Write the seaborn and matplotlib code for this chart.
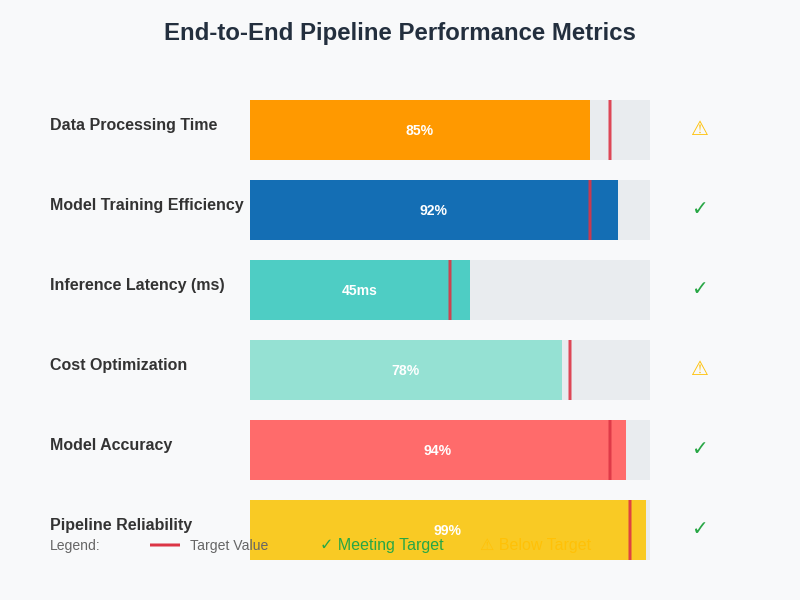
import matplotlib

matplotlib.use('Agg')
import matplotlib.pyplot as plt
import seaborn as sns

metrics = ['Data Processing Time', 'Model Training Efficiency', 'Inference Latency (ms)',
           'Cost Optimization', 'Model Accuracy', 'Pipeline Reliability']
values = [85, 92, 55, 78, 94, 99]
value_labels = ['85%', '92%', '45ms', '78%', '94%', '99%']
targets = [90, 85, 50, 80, 90, 95]
track = [100, 100, 100, 100, 100, 100]
status = ['warn', 'ok', 'ok', 'warn', 'ok', 'ok']
colors = ['#ff9900', '#146eb4', '#4ecdc4', '#95e1d3', '#ff6b6b', '#f9ca24']

BG = '#f8f9fa'
GREEN = '#28a745'
AMBER = '#ffc107'
RED = '#dc3545'
icons = {'warn': ('⚠', AMBER, 112.25), 'ok': ('✓', GREEN, 112.7)}

sns.set_theme(style='white')
plt.rcParams['font.family'] = ['Liberation Sans', 'DejaVu Sans']

fig = plt.figure(figsize=(8, 6), dpi=100, facecolor=BG)
ax = fig.add_axes([0, 0, 1, 1], facecolor=BG)

sns.barplot(x=track, y=metrics, color='#e9ecef', width=0.75, saturation=1, linewidth=0, ax=ax)
sns.barplot(x=values, y=metrics, hue=metrics, palette=colors, legend=False,
            width=0.75, saturation=1, linewidth=0, ax=ax)

# 4 px per unit, rows 80 px apart
ax.set_xlim(-62.5, 137.5)
ax.set_ylim(5.875, -1.625)
ax.axis('off')

for i, name in enumerate(metrics):
    line = ax.vlines(targets[i], i - 0.375, i + 0.375, color=RED, lw=2.16, alpha=0.9, zorder=4)
    line.set_snap(False)
    ax.text(values[i] / 2, i + 0.0125, value_labels[i], color='white', fontsize=10.08,
            fontweight='bold', ha='center', va='center', zorder=5)
    ax.text(-50, i - 0.058, name, color='#333333', fontsize=11.52, fontweight='bold',
            ha='left', va='center', zorder=5)
    icon, col, icon_x = icons[status[i]]
    ax.text(icon_x, i - 0.004, icon, color=col, fontsize=14.4, ha='center', va='center',
            family=['DejaVu Sans'], zorder=5)

fig.text(0.5, 1 - 33.7 / 600, 'End-to-End Pipeline Performance Metrics', color='#232f3e',
         fontsize=17.28, fontweight='bold', ha='center', va='center')

# legend row sits on top of the last bar
small_y = 1 - 546 / 600
big_y = 1 - 545.4 / 600
fig.text(50 / 800, small_y, 'Legend:', color='#666666', fontsize=10.08, va='center', zorder=6)
key = ax.hlines(5.1875, -25, -17.5, color=RED, lw=2.16, zorder=6)
key.set_snap(False)
fig.text(190 / 800, small_y, 'Target Value', color='#666666', fontsize=10.08, va='center', zorder=6)
fig.text(320 / 800, big_y, '✓ Meeting Target', color=GREEN, fontsize=11.52, va='center', zorder=6)
fig.text(480 / 800, big_y, '⚠ Below Target', color=AMBER, fontsize=11.52, va='center', zorder=6)

fig.savefig('out.png', dpi=100, facecolor=BG)
